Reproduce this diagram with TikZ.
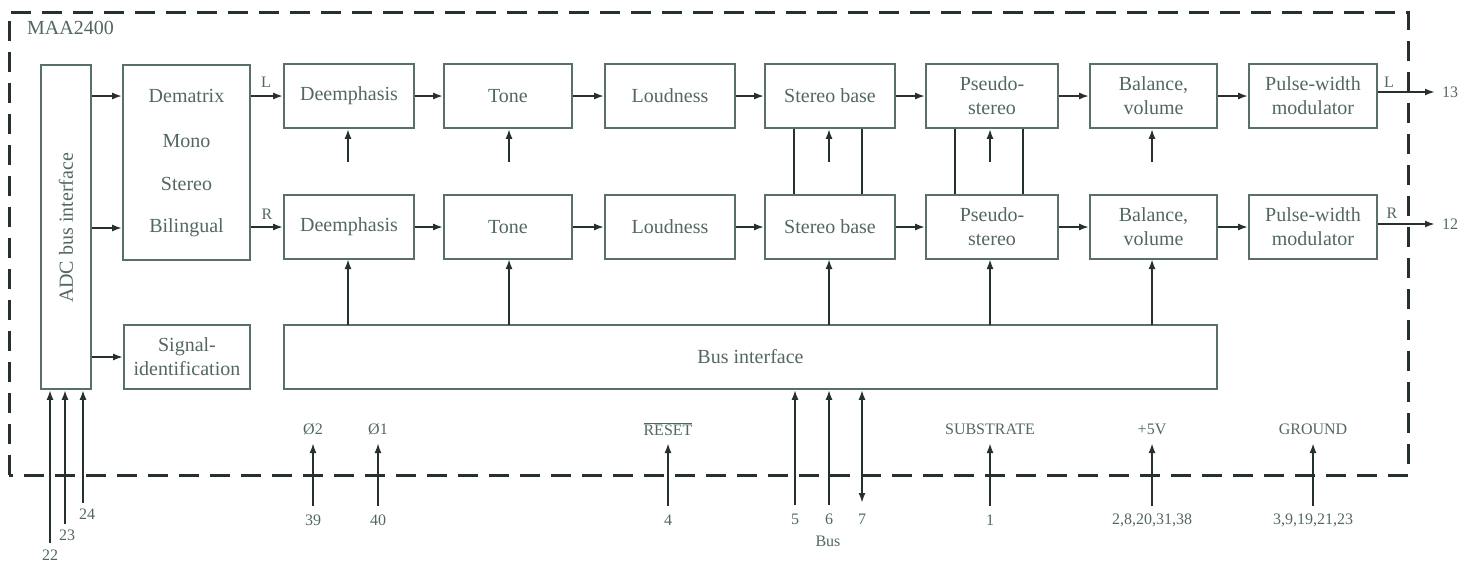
\documentclass[tikz,border=0pt]{standalone}
\usepackage{fontspec}
\setmainfont{Liberation Serif}
\usetikzlibrary{arrows.meta}
\definecolor{boxc}{RGB}{88,112,102}
\definecolor{txtc}{RGB}{82,104,95}
\definecolor{linec}{RGB}{38,48,45}
\begin{document}
\begin{tikzpicture}[x=1pt,y=-1pt,
  box/.style={draw=boxc, line width=1.6pt, minimum height=64pt, inner sep=0pt,
    font=\fontsize{20}{24}\selectfont, text=txtc, align=center},
  txt/.style={text=txtc, font=\fontsize{20}{24}\selectfont, inner sep=0pt},
  arr/.style={draw=linec, line width=2.6pt, -{Latex[length=10pt,width=7pt]}},
  darr/.style={draw=linec, line width=2.6pt, {Latex[length=10pt,width=7pt]}-{Latex[length=10pt,width=7pt]}},
  link/.style={draw=linec, line width=2.6pt},
  pin/.style={text=txtc, font=\fontsize{16}{18}\selectfont, inner sep=0pt},
  border/.style={draw=linec, line width=3pt, dash pattern=on 20pt off 11pt}
]
\useasboundingbox (0,0) rectangle (1471,566);
% border
\draw[border] (9,475) -- (9,12) -- (1408,12) -- (1408,475) -- cycle;
\node[txt, anchor=west] (chip) at (27,28) {MAA2400};

% left column
\node[box, minimum width=50pt, minimum height=324pt] (adc) at (66,227) {};
\node[txt, rotate=90] (adct) at (66,228) {ADC bus interface};
\node[box, minimum width=127pt, minimum height=195pt] (dem) at (186.5,162.5) {};
\node[txt] (dm1) at (186.5,96) {Dematrix};
\node[txt] (dm2) at (186.5,141) {Mono};
\node[txt] (dm3) at (186.5,184) {Stereo};
\node[txt] (dm4) at (186.5,228) {Bilingual};
\node[box, minimum width=126pt] (sig) at (187,357) {Signal-\\identification};

% top row
\node[box, minimum width=130pt] (d1) at (349,96) {Deemphasis};
\node[box, minimum width=128pt] (t1) at (508,96) {Tone};
\node[box, minimum width=130pt] (l1) at (670,96) {Loudness};
\node[box, minimum width=130pt] (s1) at (830,96) {Stereo base};
\node[box, minimum width=132pt] (p1) at (992,96) {Pseudo-\\stereo};
\node[box, minimum width=127pt] (b1) at (1153.5,96) {Balance,\\volume};
\node[box, minimum width=128pt] (w1) at (1313,96) {Pulse-width\\modulator};
% bottom row
\node[box, minimum width=130pt] (d2) at (349,227) {Deemphasis};
\node[box, minimum width=128pt] (t2) at (508,227) {Tone};
\node[box, minimum width=130pt] (l2) at (670,227) {Loudness};
\node[box, minimum width=130pt] (s2) at (830,227) {Stereo base};
\node[box, minimum width=132pt] (p2) at (992,227) {Pseudo-\\stereo};
\node[box, minimum width=127pt] (b2) at (1153.5,227) {Balance,\\volume};
\node[box, minimum width=128pt] (w2) at (1313,227) {Pulse-width\\modulator};
% bus interface
\node[box, minimum width=933pt] (bus) at (750.5,357) {Bus interface};

% adc -> blocks
\draw[arr] (adc.east |- dm1) -- (dem.west |- dm1);
\draw[arr] (adc.east |- dm4) -- (dem.west |- dm4);
\draw[arr] (adc.east |- sig) -- (sig.west);
\draw[arr] (dem.east |- d1) -- (d1.west);
\draw[arr] (dem.east |- d2) -- (d2.west);
\node[pin] (lL) at (266,82) {L};
\node[pin] (lR) at (267,214) {R};

% row chains
\foreach \a/\b in {d1/t1,t1/l1,l1/s1,s1/p1,p1/b1,b1/w1,d2/t2,t2/l2,l2/s2,s2/p2,p2/b2,b2/w2}
  \draw[arr] (\a.east) -- (\b.west);

% outputs
\coordinate (o13) at (1435,92);
\coordinate (o12) at (1435,224);
\draw[arr] (w1.east |- o13) -- (o13);
\draw[arr] (w2.east |- o12) -- (o12);
\node[pin] (lL2) at (1389,82) {L};
\node[pin] (lR2) at (1392,213) {R};
\node[pin, anchor=west] (n13) at (1442,92) {13};
\node[pin, anchor=west] (n12) at (1442,224) {12};

% bus interface -> bottom row
\foreach \n/\x in {d2/348,t2/509,s2/829,p2/990,b2/1152}
  \draw[arr] (\x,325) -- (\x,259);

% short control arrows into top row
\foreach \n/\x in {d1/348,t1/509,s1/829,p1/990,b1/1152}{
  \coordinate (c\n) at (\x,162);
  \draw[arr] (c\n) -- (c\n |- \n.south);
}

% links between rows
\foreach \x/\a/\b in {794/s1/s2,862/s1/s2,955/p1/p2,1023/p1/p2}
  \draw[link] (\a.south -| \x,0) -- (\b.north -| \x,0);

% ADC input pins
\foreach \x/\y/\n/\lx/\ly in {50/543/22/50/555,65/524/23/67/535,83/503/24/87/514}{
  \coordinate (a\n) at (\x,\y);
  \draw[arr] (a\n) -- (a\n |- adc.south);
  \node[pin] (la\n) at (\lx,\ly) {\n};
}

% single pins
\foreach \x/\top/\bot/\id in {313/Ø2/39/q2,378/Ø1/40/q1,668/$\overline{\mbox{RESET}}$/4/rs,990/SUBSTRATE/1/sb,1152/+5V/{2,8,20,31,38}/pv,1313/GROUND/{3,9,19,21,23}/gd}{
  \coordinate (b\id) at (\x,506);
  \coordinate (t\id) at (\x,443);
  \draw[arr] (b\id) -- (t\id);
  \node[pin] (lt\id) at (\x,429) {\top};
  \node[pin] (lb\id) at (\x,520) {\bot};
}

% bus pins
\coordinate (p5) at (795,505);
\coordinate (p6) at (829,505);
\coordinate (p7) at (862,503);
\draw[arr] (p5) -- (p5 |- bus.south);
\draw[arr] (p6) -- (p6 |- bus.south);
\draw[darr] (p7) -- (p7 |- bus.south);
\node[pin] (l5) at (795,519) {5};
\node[pin] (l6) at (829,519) {6};
\node[pin] (l7) at (862,519) {7};
\node[pin] (lbus) at (828,541) {Bus};
\end{tikzpicture}
\end{document}
